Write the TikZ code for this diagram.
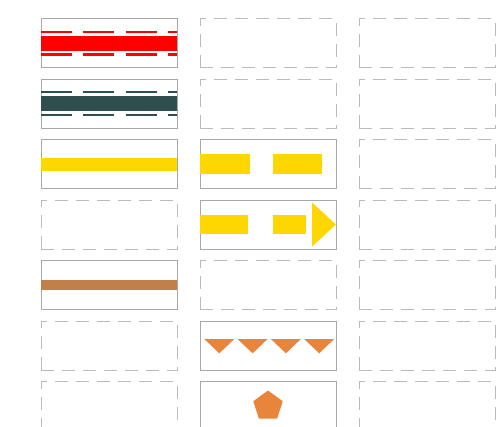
\documentclass[tikz,border=0pt]{standalone}
\usepackage{tikz}
\usetikzlibrary{arrows.meta,positioning,calc,shapes.geometric}
\definecolor{slate}{HTML}{2F4F4F}
\definecolor{gold}{HTML}{FFD700}
\definecolor{clay}{HTML}{C1804A}
\definecolor{tangerine}{HTML}{E9843B}
\definecolor{framegray}{HTML}{A8A8A8}
\definecolor{ghostgray}{HTML}{BBBBBB}
\tikzset{
  cell/.style={minimum width=136pt,minimum height=49pt,inner sep=0pt,outer sep=0pt,line width=1pt},
  solidcell/.style={cell,draw=framegray},
  emptycell/.style={cell,draw=ghostgray,dash pattern=on 13pt off 8pt}
}
\begin{document}
\begin{tikzpicture}[x=1pt,y=-1pt]
\clip (0,0) rectangle (500,426);
\fill[white] (0,0) rectangle (500,426);
% frames with a swatch
\foreach \c/\r in {1/1,1/2,1/3,1/5,2/3,2/4,2/6,2/7}
  \node[solidcell] (c\c-r\r) at ({109+159*(\c-1)},{43+60.5*(\r-1)}) {};
% empty frames
\foreach \c/\r in {1/4,1/6,1/7,2/1,2/2,2/5}
  \node[emptycell] (c\c-r\r) at ({109+159*(\c-1)},{43+60.5*(\r-1)}) {};
\foreach \r in {1,...,7}
  \node[emptycell] (c3-r\r) at (427,{43+60.5*(\r-1)}) {};
% row 1: red band with dashed edges
\draw[red,line width=15pt] (c1-r1.west) -- (c1-r1.east);
\draw[red,line width=2.3pt,dash pattern=on 31pt off 11.3pt] ([yshift=11pt]c1-r1.west) -- ([yshift=11pt]c1-r1.east);
\draw[red,line width=2.3pt,dash pattern=on 31pt off 11.3pt] ([yshift=-11.5pt]c1-r1.west) -- ([yshift=-11.5pt]c1-r1.east);
% row 2: slate band with dashed edges
\draw[slate,line width=15.5pt] (c1-r2.west) -- (c1-r2.east);
\draw[slate,line width=2.3pt,dash pattern=on 31pt off 11.3pt] ([yshift=11.5pt]c1-r2.west) -- ([yshift=11.5pt]c1-r2.east);
\draw[slate,line width=2.3pt,dash pattern=on 31pt off 11.3pt] ([yshift=-11.5pt]c1-r2.west) -- ([yshift=-11.5pt]c1-r2.east);
% row 3: yellow, solid and dashed
\draw[gold,line width=13pt] (c1-r3.west) -- (c1-r3.east);
\draw[gold,line width=20pt,dash pattern=on 49.5pt off 23pt] (c2-r3.west) -- (c2-r3.east);
% row 4: dashed yellow arrow
\draw[gold,line width=19.5pt,dash pattern=on 48pt off 25pt] (c2-r4.west) -- ([xshift=-30pt]c2-r4.east);
\fill[gold] ([xshift=-24pt,yshift=22pt]c2-r4.east) -- (c2-r4.east) -- ([xshift=-24pt,yshift=-22pt]c2-r4.east) -- cycle;
% row 5: brown band
\draw[clay,line width=9.5pt] (c1-r5.west) -- (c1-r5.east);
% row 6: orange triangles
\foreach \i in {0,...,3}
  \fill[tangerine] ([xshift={(4.3+33.3*\i)*1pt},yshift=6.5pt]c2-r6.west) -- ++(30pt,0pt) -- ++(-15pt,-14.3pt) -- cycle;
% row 7: orange pentagon
\node[regular polygon,regular polygon sides=5,fill=tangerine,minimum size=31pt,inner sep=0pt] (penta) at (c2-r7) {};
\end{tikzpicture}
\end{document}
